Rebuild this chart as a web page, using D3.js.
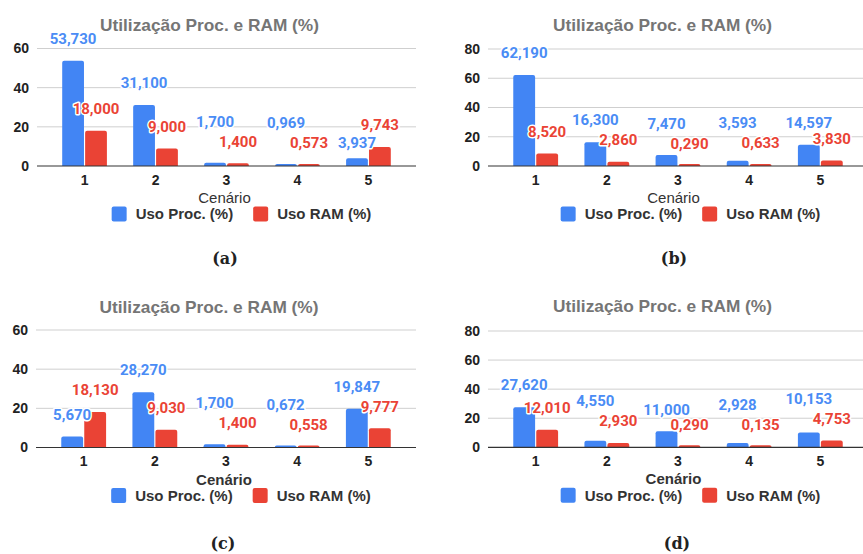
<!DOCTYPE html>
<html>
<head>
<meta charset="utf-8">
<script src="https://cdn.jsdelivr.net/npm/d3@7"></script>
<style>
  body { margin: 0; background: #fff; }
  svg { display: block; font-family: "Liberation Sans", Arial, sans-serif; }
</style>
</head>
<body>
<svg id="chart"></svg>
<script>
const width = 863;
const height = 554;

// data
const categories = ["1", "2", "3", "4", "5"];
const seriesNames = ["Uso Proc. (%)", "Uso RAM (%)"];
const procA = [53.73, 31.1, 1.7, 0.969, 3.937];
const ramA = [18.0, 9.0, 1.4, 0.573, 9.743];
const procB = [62.19, 16.3, 7.47, 3.593, 14.597];
const ramB = [8.52, 2.86, 0.29, 0.633, 3.83];
const procC = [5.67, 28.27, 1.7, 0.672, 19.847];
const ramC = [18.13, 9.03, 1.4, 0.558, 9.777];
const procD = [27.62, 4.55, 11.0, 2.928, 10.153];
const ramD = [12.01, 2.93, 0.29, 0.135, 4.753];
const ticks60 = [0, 20, 40, 60];
const ticks80 = [0, 20, 40, 60, 80];
const captions = ["(a)", "(b)", "(c)", "(d)"];
const chartTitle = "Utilização Proc. e RAM (%)";
const xTitle = "Cenário";

const colors = ["#4285f4", "#ea4335"];
const labelColors = ["#4a8cf5", "#ea4335"];

const fmt = (v) => d3.format(".3f")(v).replace(".", ",");

const svg = d3.select("#chart").attr("width", width).attr("height", height);

const panels = [
  { proc: procA, ram: ramA, ticks: ticks60, x0: 37, x1: 416, y0: 166, yTop: 48.5, xTitleBold: false, capX: 225, capY: 258 },
  { proc: procB, ram: ramB, ticks: ticks80, x0: 488, x1: 868, y0: 166, yTop: 49, xTitleBold: false, capX: 674, capY: 258 },
  { proc: procC, ram: ramC, ticks: ticks60, x0: 36, x1: 416, y0: 447.5, yTop: 330, xTitleBold: true, capX: 223, capY: 543 },
  { proc: procD, ram: ramD, ticks: ticks80, x0: 488, x1: 868, y0: 447.3, yTop: 331, xTitleBold: true, capX: 677, capY: 543 },
];

panels.forEach((p, i) => {
  const g = svg.append("g");
  const visRight = Math.min(p.x1, width);
  const midX = (p.x0 + visRight) / 2;

  const x = d3.scaleBand().domain(categories).range([p.x0, p.x1])
    .paddingInner(0.37).paddingOuter(0.355);
  const xs = d3.scaleBand().domain([0, 1]).range([0, x.bandwidth()]).paddingInner(0.05);
  const y = d3.scaleLinear().domain([0, d3.max(p.ticks)]).range([p.y0, p.yTop]);

  // title
  g.append("text")
    .attr("x", midX + (i % 2 ? -13 : -17))
    .attr("y", p.y0 - 141 + 6)
    .attr("text-anchor", "middle")
    .attr("fill", "#757575")
    .attr("font-weight", "bold")
    .attr("font-size", 17.3)
    .text(chartTitle);

  // y axis labels + gridlines
  const yAxis = d3.axisLeft(y).tickValues(p.ticks).tickSize(0).tickPadding(8);
  const ya = g.append("g").attr("transform", `translate(${p.x0},0)`).call(yAxis);
  ya.select(".domain").remove();
  ya.selectAll("text")
    .attr("fill", "#222").attr("font-weight", "bold").attr("font-size", 14)
    .attr("font-family", "'Liberation Sans', Arial, sans-serif");
  g.selectAll(".grid")
    .data(p.ticks.filter((t) => t > 0))
    .join("line")
    .attr("x1", p.x0).attr("x2", visRight)
    .attr("y1", (d) => y(d)).attr("y2", (d) => y(d))
    .attr("stroke", "#cfcfcf").attr("stroke-width", 1);

  // bars
  const series = [p.proc, p.ram];
  series.forEach((vals, s) => {
    g.selectAll(".bar" + s)
      .data(vals)
      .join("path")
      .attr("fill", colors[s])
      .attr("d", (d, k) => {
        const bx = x(categories[k]) + xs(s);
        const bw = xs.bandwidth();
        const top = Math.min(y(d), p.y0 - 2);
        const r = 2;
        return `M${bx},${p.y0}V${top + r}Q${bx},${top} ${bx + r},${top}H${bx + bw - r}Q${bx + bw},${top} ${bx + bw},${top + r}V${p.y0}Z`;
      });
  });

  // axis baseline
  g.append("line")
    .attr("x1", p.x0).attr("x2", visRight)
    .attr("y1", p.y0).attr("y2", p.y0)
    .attr("stroke", "#333").attr("stroke-width", 1.2);

  // x ticks
  const xa = g.append("g").attr("transform", `translate(0,${p.y0})`)
    .call(d3.axisBottom(x).tickSize(0).tickPadding(9));
  xa.select(".domain").remove();
  xa.selectAll("text")
    .attr("fill", "#222").attr("font-weight", "bold").attr("font-size", 14)
    .attr("font-family", "'Liberation Sans', Arial, sans-serif");

  g.append("text")
    .attr("x", midX - 2)
    .attr("y", p.y0 + 37)
    .attr("text-anchor", "middle")
    .attr("fill", "#333")
    .attr("font-weight", p.xTitleBold ? "bold" : "normal")
    .attr("font-size", 15)
    .text(xTitle);

  // value labels with simple collision handling
  categories.forEach((c, k) => {
    const vals = [p.proc[k], p.ram[k]];
    const ly = vals.map((v) => y(v) - 22);
    if (Math.abs(ly[0] - ly[1]) < 15) {
      const big = vals[0] >= vals[1] ? 0 : 1;
      const small = 1 - big;
      const limit = p.y0 - 21;
      if (ly[big] + 18 <= limit) {
        ly[small] = ly[big] + 18;
      } else {
        ly[big] = ly[small] - 20;
      }
    }
    vals.forEach((v, s) => {
      g.append("text")
        .attr("x", x(c) + xs(s) + xs.bandwidth() / 2)
        .attr("y", ly[s])
        .attr("dy", "0.35em")
        .attr("text-anchor", "middle")
        .attr("font-family", "Roboto, sans-serif")
        .attr("font-weight", "bold")
        .attr("font-size", 15)
        .attr("fill", labelColors[s])
        .attr("stroke", "#fff")
        .attr("stroke-width", 3)
        .attr("stroke-linejoin", "round")
        .attr("paint-order", "stroke")
        .text(fmt(v));
    });
  });

  // legend
  const legY = p.y0 + 48;
  const leg = g.append("g");
  let lx = 0;
  seriesNames.forEach((name, s) => {
    leg.append("rect")
      .attr("x", lx).attr("y", legY - 7.5)
      .attr("width", 15).attr("height", 15)
      .attr("rx", 2).attr("fill", colors[s]);
    const t = leg.append("text")
      .attr("x", lx + 24).attr("y", legY)
      .attr("dy", "0.35em")
      .attr("fill", "#333")
      .attr("font-weight", "bold")
      .attr("font-size", 15)
      .text(name);
    lx += 24 + t.node().getComputedTextLength() + 20;
  });
  const legW = lx - 20;
  leg.attr("transform", `translate(${midX + 15 - legW / 2},0)`);

  // caption
  svg.append("text")
    .attr("x", p.capX).attr("y", p.capY)
    .attr("dy", "0.35em")
    .attr("text-anchor", "middle")
    .attr("font-family", "'DejaVu Serif', serif")
    .attr("font-weight", "bold")
    .attr("font-size", 16)
    .attr("fill", "#222")
    .text(captions[i]);
});
</script>
</body>
</html>
